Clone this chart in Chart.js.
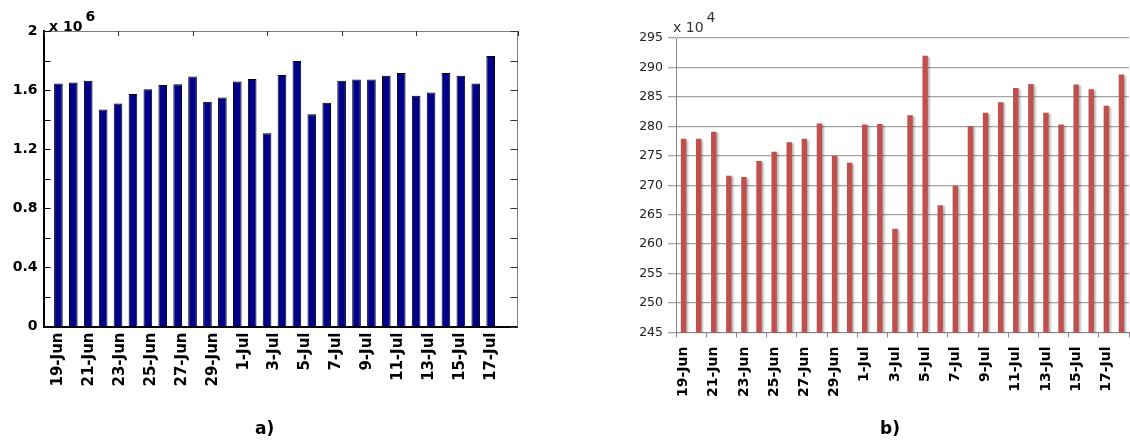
<!DOCTYPE html>
<html>
<head>
<meta charset="utf-8">
<title>Daily totals, 19 June – 18 July</title>
<script src="https://cdn.jsdelivr.net/npm/chart.js@4.4.1/dist/chart.umd.min.js"></script>
<style>
  html, body { margin: 0; padding: 0; background: #fff; }
  body { width: 1130px; height: 441px; position: relative; overflow: hidden; font-family: "DejaVu Sans", sans-serif; }
  canvas { position: absolute; top: 0; }
  #chartA { left: 0; }
  #chartB { left: 600px; }
  .mult { position: absolute; font-size: 14px; line-height: 1; white-space: nowrap; }
  .mult sup { font-size: 14px; position: relative; top: -4px; margin-left: 3px; }
  #multA { left: 49px; top: 13px; font-weight: bold; color: #000; }
  #multB { left: 673px; top: 14px; color: #333; }
  .panel { position: absolute; top: 418px; font-size: 17px; font-weight: bold; color: #000; }
  #panelA { left: 255px; }
  #panelB { left: 880px; }
</style>
</head>
<body>
<canvas id="chartA" width="560" height="441"></canvas>
<canvas id="chartB" width="530" height="441"></canvas>
<div class="mult" id="multA">x 10<sup>6</sup></div>
<div class="mult" id="multB">x 10<sup>4</sup></div>
<div class="panel" id="panelA">a)</div>
<div class="panel" id="panelB">b)</div>
<script>
// Days covered by both panels
const days = [
  '19-Jun', '20-Jun', '21-Jun', '22-Jun', '23-Jun', '24-Jun', '25-Jun', '26-Jun',
  '27-Jun', '28-Jun', '29-Jun', '30-Jun', '1-Jul', '2-Jul', '3-Jul', '4-Jul',
  '5-Jul', '6-Jul', '7-Jul', '8-Jul', '9-Jul', '10-Jul', '11-Jul', '12-Jul',
  '13-Jul', '14-Jul', '15-Jul', '16-Jul', '17-Jul', '18-Jul'
];

// Every second day is labelled on the axes
const dayTickLabels = [
  '19-Jun', '21-Jun', '23-Jun', '25-Jun', '27-Jun', '29-Jun', '1-Jul', '3-Jul',
  '5-Jul', '7-Jul', '9-Jul', '11-Jul', '13-Jul', '15-Jul', '17-Jul'
];

// Panel a) daily values
const seriesA = [
  1645000, 1652000, 1663000, 1469000, 1510000, 1573000, 1605000, 1634000,
  1639000, 1692000, 1521000, 1550000, 1659000, 1675000, 1308000, 1702000,
  1797000, 1437000, 1514000, 1663000, 1672000, 1672000, 1697000, 1715000,
  1561000, 1584000, 1715000, 1697000, 1645000, 1830000
];

// Panel b) daily values
const seriesB = [
  2779000, 2779000, 2791000, 2716000, 2714000, 2741000, 2757000, 2773000,
  2779000, 2805000, 2750000, 2738000, 2803000, 2804000, 2626000, 2819000,
  2920000, 2666000, 2699000, 2800000, 2823000, 2841000, 2865000, 2872000,
  2823000, 2803000, 2871000, 2863000, 2835000, 2888000
];

// Panel a) axis scales
const yTicksA = { min: 0, max: 2000000, step: 200000, labelEvery: 400000 };
const xTopStepA = 5;
// Panel b) axis scales
const yTicksB = { min: 2450000, max: 2950000, step: 50000 };

// Short tick marks drawn inside the plot box
const innerTicks = {
  id: 'innerTicks',
  afterDraw(chart, args, opts) {
    if (!opts || !opts.marks) return;
    const { ctx, chartArea: a } = chart;
    ctx.save();
    ctx.lineWidth = 1;
    opts.marks.forEach(m => {
      const s = chart.scales[m.scale];
      if (!s) return;
      ctx.strokeStyle = m.color || '#000';
      s.ticks.forEach(t => {
        const p = Math.round(s.getPixelForValue(t.value)) + 0.5;
        ctx.beginPath();
        if (m.side === 'left') { ctx.moveTo(a.left, p); ctx.lineTo(a.left + m.length, p); }
        else if (m.side === 'right') { ctx.moveTo(a.right, p); ctx.lineTo(a.right - m.length, p); }
        else if (m.side === 'top') { ctx.moveTo(p, a.top); ctx.lineTo(p, a.top + m.length); }
        ctx.stroke();
      });
    });
    ctx.restore();
  }
};

// Soft drop shadow behind bars
const barShadow = {
  id: 'barShadow',
  beforeDatasetsDraw(chart, args, opts) {
    if (!opts || !opts.enabled) return;
    const ctx = chart.ctx;
    ctx.save();
    ctx.shadowColor = opts.color;
    ctx.shadowOffsetX = opts.offsetX;
    ctx.shadowOffsetY = opts.offsetY;
    ctx.shadowBlur = opts.blur;
  },
  afterDatasetsDraw(chart, args, opts) {
    if (!opts || !opts.enabled) return;
    chart.ctx.restore();
  }
};

Chart.register(innerTicks, barShadow);

const boldFont = (size) => ({ family: 'DejaVu Sans', weight: 'bold', size: size });
const noSidePadding = (s) => { s.paddingLeft = 0; s.paddingRight = 0; };

// ---------- Panel a) ----------
new Chart(document.getElementById('chartA'), {
  type: 'bar',
  data: {
    datasets: [{
      data: seriesA.map((v, i) => ({ x: i + 1, y: v })),
      backgroundColor: '#00008B',
      borderColor: '#000000',
      borderWidth: 1,
      borderSkipped: 'bottom',
      barPercentage: 0.58,
      categoryPercentage: 1,
      xAxisID: 'x',
      yAxisID: 'y'
    }]
  },
  options: {
    responsive: false,
    animation: false,
    devicePixelRatio: 1,
    layout: { padding: 0 },
    plugins: {
      legend: { display: false },
      tooltip: { enabled: false },
      innerTicks: {
        marks: [
          { scale: 'y', side: 'left', length: 7, color: '#000' },
          { scale: 'yRight', side: 'right', length: 7, color: '#333' },
          { scale: 'xTop', side: 'top', length: 5, color: '#333' }
        ]
      },
      barShadow: { enabled: false }
    },
    scales: {
      x: {
        type: 'linear',
        position: 'bottom',
        offset: false,
        min: 0,
        max: days.length + 1.8,
        afterBuildTicks: (s) => {
          const n = dayTickLabels.length;
          s.ticks = dayTickLabels.map((_, k) => ({ value: 1 + k * (days.length - 1) / (n - 1) }));
        },
        ticks: {
          autoSkip: false,
          minRotation: 90,
          maxRotation: 90,
          padding: 6,
          color: '#000',
          font: boldFont(15),
          callback: (v, i) => dayTickLabels[i]
        },
        grid: { display: false, drawTicks: false },
        border: { color: '#000', width: 2 },
        afterFit: (s) => { s.height = 114.5; noSidePadding(s); }
      },
      xTop: {
        type: 'linear',
        position: 'top',
        offset: false,
        min: 0,
        max: days.length + 1.8,
        ticks: { display: false, stepSize: xTopStepA },
        grid: { display: false, drawTicks: false },
        border: { color: '#7f7f7f', width: 1 },
        afterFit: (s) => { s.height = 31; noSidePadding(s); }
      },
      y: {
        position: 'left',
        min: yTicksA.min,
        max: yTicksA.max,
        ticks: {
          stepSize: yTicksA.step,
          padding: 6,
          color: '#000',
          font: boldFont(14),
          callback: (v) => (Math.round(v / yTicksA.step) % (yTicksA.labelEvery / yTicksA.step) === 0)
            ? String(+(v / 1e6).toFixed(1)) : ''
        },
        grid: { display: false, drawTicks: false },
        border: { color: '#000', width: 2 },
        afterFit: (s) => { s.width = 43.5; }
      },
      yRight: {
        position: 'right',
        min: yTicksA.min,
        max: yTicksA.max,
        ticks: { display: false, stepSize: yTicksA.step },
        grid: { display: false, drawTicks: false },
        border: { color: '#7f7f7f', width: 1 },
        afterFit: (s) => { s.width = 42.5; }
      }
    }
  }
});

// ---------- Panel b) ----------
const axisGrey = '#868686';
new Chart(document.getElementById('chartB'), {
  type: 'bar',
  data: {
    labels: days,
    datasets: [{
      data: seriesB,
      backgroundColor: '#C0504D',
      borderWidth: 0,
      barPercentage: 0.36,
      categoryPercentage: 1
    }]
  },
  options: {
    responsive: false,
    animation: false,
    devicePixelRatio: 1,
    layout: { padding: { top: 38, right: 1, left: 0, bottom: 0 } },
    plugins: {
      legend: { display: false },
      tooltip: { enabled: false },
      barShadow: { enabled: true, color: 'rgba(0,0,0,0.28)', offsetX: 2, offsetY: 1, blur: 2 }
    },
    scales: {
      x: {
        ticks: {
          autoSkip: false,
          minRotation: 90,
          maxRotation: 90,
          padding: 9,
          color: '#000',
          font: boldFont(14),
          callback: (v, i) => (i % 2 === 0 ? days[i] : '')
        },
        grid: {
          offset: true,
          drawOnChartArea: false,
          tickLength: 5,
          color: axisGrey,
          tickColor: (c) => (c.index === undefined || c.index % 2 === 0) ? axisGrey : 'rgba(0,0,0,0)'
        },
        border: { color: axisGrey, width: 1 },
        afterFit: (s) => { s.height = 108.5; noSidePadding(s); }
      },
      y: {
        min: yTicksB.min,
        max: yTicksB.max,
        ticks: {
          stepSize: yTicksB.step,
          padding: 5,
          color: '#222',
          font: { family: 'DejaVu Sans', size: 12.5 },
          callback: (v) => String(Math.round(v / 1e4))
        },
        grid: { color: '#a3a3a3', lineWidth: 1.3, tickLength: 8, tickColor: '#a3a3a3' },
        border: { color: axisGrey, width: 1 },
        afterFit: (s) => { s.width = 76; }
      }
    }
  }
});
</script>
</body>
</html>
